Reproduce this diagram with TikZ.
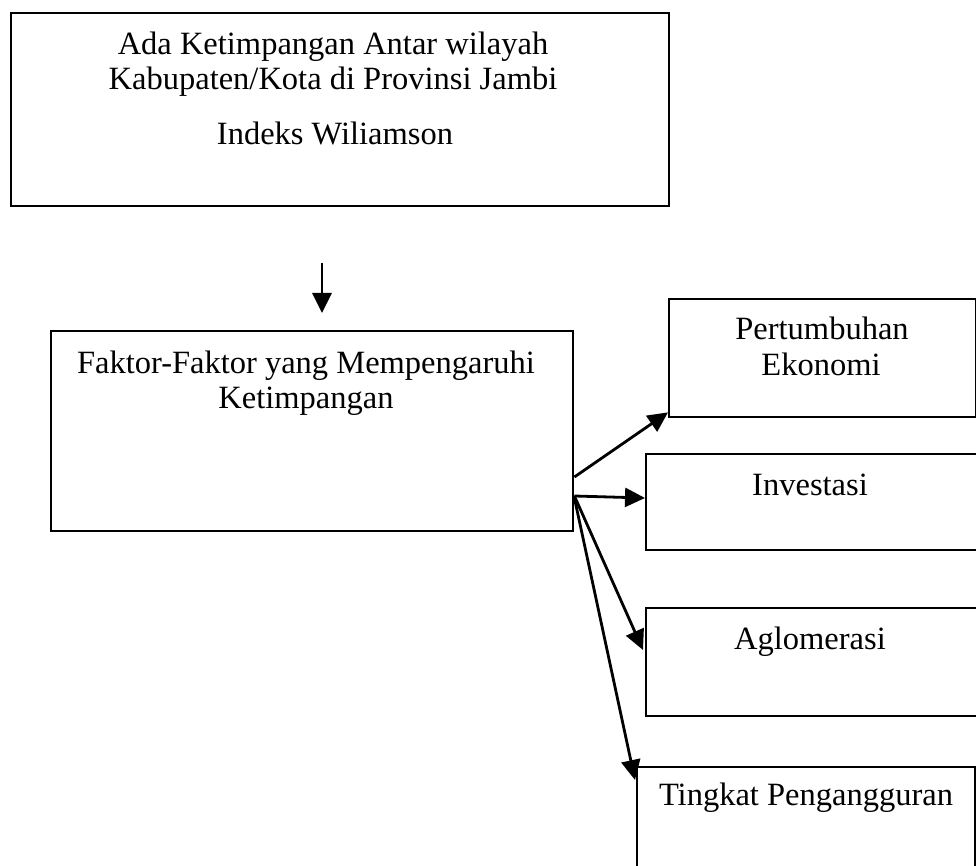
\documentclass[tikz,border=0pt]{standalone}
\usepackage{fontspec}
\setmainfont{Liberation Serif}
\usetikzlibrary{arrows.meta,calc}
\begin{document}
\begin{tikzpicture}[x=1pt,y=-1pt,
  box/.style={draw, line width=2.4pt, anchor=north west, inner sep=0pt},
  lbl/.style={anchor=base, inner sep=0pt, font=\fontsize{32.5}{36}\selectfont},
  arr/.style={line width=2.8pt, -{Triangle[length=20pt,width=19pt]}}]
\useasboundingbox (0,0) rectangle (976,866);
\clip (0,0) rectangle (976,866);
% boxes
\node[box, minimum width=658pt, minimum height=193pt] (top) at (10,12) {};
\node[box, minimum width=522pt, minimum height=200pt] (mid) at (50,330) {};
\node[box, minimum width=307pt, minimum height=118pt] (pe) at (668,298) {};
\node[box, minimum width=345pt, minimum height=96pt] (inv) at (645,453) {};
\node[box, minimum width=345pt, minimum height=108pt] (agl) at (645,607) {};
\node[box, minimum width=338pt, minimum height=134pt] (tp) at (636,766) {};
% texts
\node[lbl] (t1) at (333,55) {Ada Ketimpangan Antar wilayah};
\node[lbl] (t2) at (333,90) {Kabupaten/Kota di Provinsi Jambi};
\node[lbl] (t3) at (335,145) {Indeks Wiliamson};
\node[lbl] (m1) at (306,373) {Faktor-Faktor yang Mempengaruhi};
\node[lbl] (m2) at (306,408) {Ketimpangan};
\node[lbl] (p1) at (822,339) {Pertumbuhan};
\node[lbl] (p2) at (821,375) {Ekonomi};
\node[lbl] (i1) at (810,495) {Investasi};
\node[lbl] (a1) at (810,649) {Aglomerasi};
\node[lbl] (g1) at (806,805) {Tingkat Pengangguran};
% connectors
\coordinate (d1) at (322,263);
\coordinate (d2) at (322,313);
\draw[arr] (d1) -- (d2);
\coordinate (s1) at ($(mid.north east)+(0,147)$);
\coordinate (s2) at ($(mid.north east)+(0,166)$);
\coordinate (s4) at ($(mid.north east)+(0,168)$);
\draw[arr] (s1) -- ($(pe.south west)+(0,-6)$);
\draw[arr] (s2) -- ($(inv.north west)+(0,45)$);
\draw[arr] (s2) -- ($(agl.north west)+(-2,43)$);
\draw[arr] (s4) -- ($(tp.north west)+(-1,14)$);
\end{tikzpicture}
\end{document}
